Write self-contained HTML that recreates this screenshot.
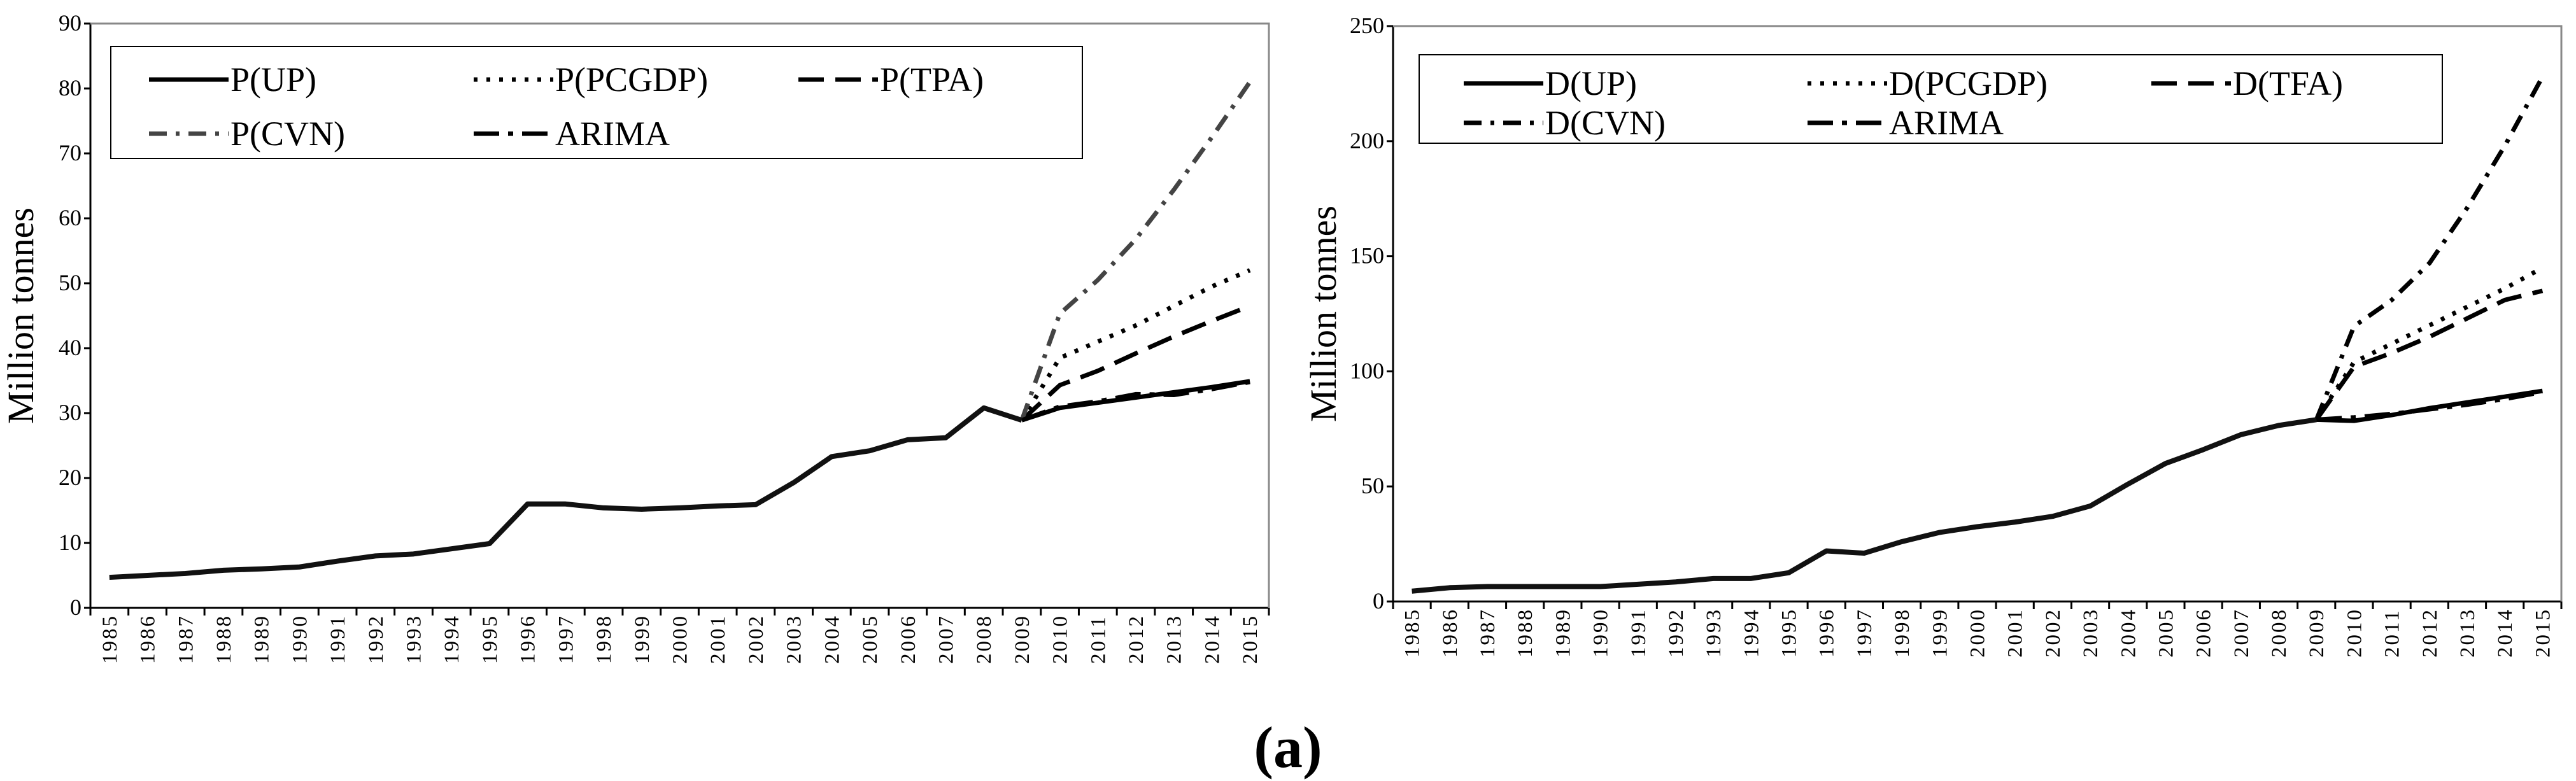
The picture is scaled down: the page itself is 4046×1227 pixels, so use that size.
<!DOCTYPE html>
<html><head><meta charset="utf-8"><style>
body{margin:0;background:#fff;}
svg{display:block;font-family:"Liberation Serif",serif;}
</style></head><body>
<svg id="c" width="4046" height="1227" viewBox="0 0 4046 1227"></svg>
<script>
const years=[];for(let y=1985;y<=2015;y++)years.push(String(y));
const pHist=[4.7,5.0,5.3,5.8,6.0,6.3,7.2,8.0,8.3,9.1,9.9,16.0,16.0,15.4,15.2,15.4,15.7,15.9,19.3,23.3,24.2,25.9,26.2,30.8,28.9];
const pUP=[30.8,31.6,32.4,33.2,34.0,34.9];
const pPCGDP=[38.5,41,43.5,46.5,49.5,52];
const pTPA=[34.3,36.5,39.2,41.8,44.2,46.5];
const pCVN=[45.3,50.5,56.8,64.4,72.5,81];
const pARIMA=[31,31.8,32.9,32.8,33.7,34.8];
const dHist=[4.5,6,6.5,6.5,6.5,6.5,7.5,8.5,10,10,12.5,22,21,26,30,32.5,34.5,37,41.5,51,60,66,72.5,76.5,79];
const dUP=[78.5,81,84,86.5,89,91.5];
const dPCGDP=[104,112,120,128,136,145];
const dTFA=[102,108,115,123,131,135];
const dCVN=[119.6,131,147,171,198,228];
const dARIMA=[80,81.5,83.5,85.5,88,91];
const pTicks=[0,10,20,30,40,50,60,70,80,90];
const dTicks=[0,50,100,150,200,250];
const NS="http://www.w3.org/2000/svg";
const svg=document.getElementById('c');
function mk(t,a,p){const e=document.createElementNS(NS,t);for(const k in a)e.setAttribute(k,a[k]);(p||svg).appendChild(e);return e;}
const styles={solid:'',dot:'6 14',dash:'40 18',dashdot:'28 14 6 14',arima:'40 14 8 14'};
function chart(cfg){
  const g=mk('g',{});
  
  
  const L=cfg.l,R=cfg.r,T=cfg.t,B=cfg.b,n=years.length,step=(R-L)/n;
  const xs=i=>L+step*(i+0.5);
  const ys=v=>B-(v/cfg.max)*(B-T);
  const ax=mk('path',{d:`M${L} ${T}V${B}H${R}`,stroke:'#000','stroke-width':3,fill:'none'},g);
  
  mk('path',{d:`M${L} ${T}H${R}V${B}`,stroke:'#888','stroke-width':3,fill:'none'},g);
  cfg.ticks.forEach(t=>{
    mk('line',{x1:L-10,x2:L,y1:ys(t),y2:ys(t),stroke:'#000','stroke-width':3},g);
    const tx=mk('text',{x:L-14,y:ys(t)+11,'text-anchor':'end','font-size':36},g);
    tx.textContent=t;
    
  });
  for(let i=0;i<=n;i++)mk('line',{x1:L+step*i,x2:L+step*i,y1:B,y2:B+12,stroke:'#000','stroke-width':3},g);
  years.forEach((y,i)=>{
    const tx=mk('text',{transform:`translate(${xs(i)+11},${B+88}) rotate(-90)`,'font-size':33,'letter-spacing':3},g);
    tx.textContent=y;
    
  });
  const yt=mk('text',{transform:`translate(${cfg.ytx},${(T+B)/2}) rotate(-90)`,'text-anchor':'middle','font-size':58},g);
  yt.textContent='Million tonnes';
  
  const hi=cfg.hist.length-1;
  cfg.series.forEach(s=>{
    const pts=[[xs(hi),ys(cfg.hist[hi])]].concat(s.v.map((v,j)=>[xs(hi+1+j),ys(v)]));
    const p=mk('polyline',{points:pts.map(q=>q.join(',')).join(' '),fill:'none',stroke:s.c,'stroke-width':7,'stroke-dasharray':styles[s.st]},g);
    
    
  });
  const hp=mk('polyline',{points:cfg.hist.map((v,i)=>xs(i)+','+ys(v)).join(' '),fill:'none',stroke:'#111','stroke-width':8,'stroke-linejoin':'round'},g);
  
  const lg=cfg.lg;
  const box=mk('rect',{x:lg.x,y:lg.y,width:lg.w,height:lg.h,fill:'#fff',stroke:'#000','stroke-width':2},g);
  
  cfg.series.forEach((s,i)=>{
    const col=i%3,row=Math.floor(i/3);
    const x=lg.x+lg.ox+col*lg.cw,y=lg.y+lg.oy+row*lg.rh;
    mk('line',{x1:x,x2:x+125,y1:y,y2:y,stroke:s.c,'stroke-width':7,'stroke-dasharray':styles[s.st]},g);
    const t=mk('text',{x:x+128,y:y+18,'font-size':54},g);
    t.textContent=s.n;
    
  });
}
chart({name:'production-chart',l:142,r:1993,t:37,b:955,max:90,ticks:pTicks,ytx:52,hist:pHist,
  lg:{x:174,y:73,w:1526,h:176,ox:60,oy:52,cw:510,rh:85},
  series:[{n:'P(UP)',v:pUP,c:'#000',st:'solid'},{n:'P(PCGDP)',v:pPCGDP,c:'#000',st:'dot'},{n:'P(TPA)',v:pTPA,c:'#000',st:'dash'},{n:'P(CVN)',v:pCVN,c:'#444',st:'dashdot'},{n:'ARIMA',v:pARIMA,c:'#000',st:'arima'}]});
chart({name:'demand-chart',l:2188,r:4023,t:41,b:945,max:250,ticks:dTicks,ytx:2098,hist:dHist,
  lg:{x:2229,y:86,w:1607,h:139,ox:70,oy:45,cw:540,rh:62},
  series:[{n:'D(UP)',v:dUP,c:'#000',st:'solid'},{n:'D(PCGDP)',v:dPCGDP,c:'#000',st:'dot'},{n:'D(TFA)',v:dTFA,c:'#000',st:'dash'},{n:'D(CVN)',v:dCVN,c:'#000',st:'dashdot'},{n:'ARIMA',v:dARIMA,c:'#000',st:'arima'}]});
const a=mk('text',{x:2023,y:1205,'text-anchor':'middle','font-size':92,'font-weight':'bold'});
a.textContent='(a)';

</script>
</body></html>
